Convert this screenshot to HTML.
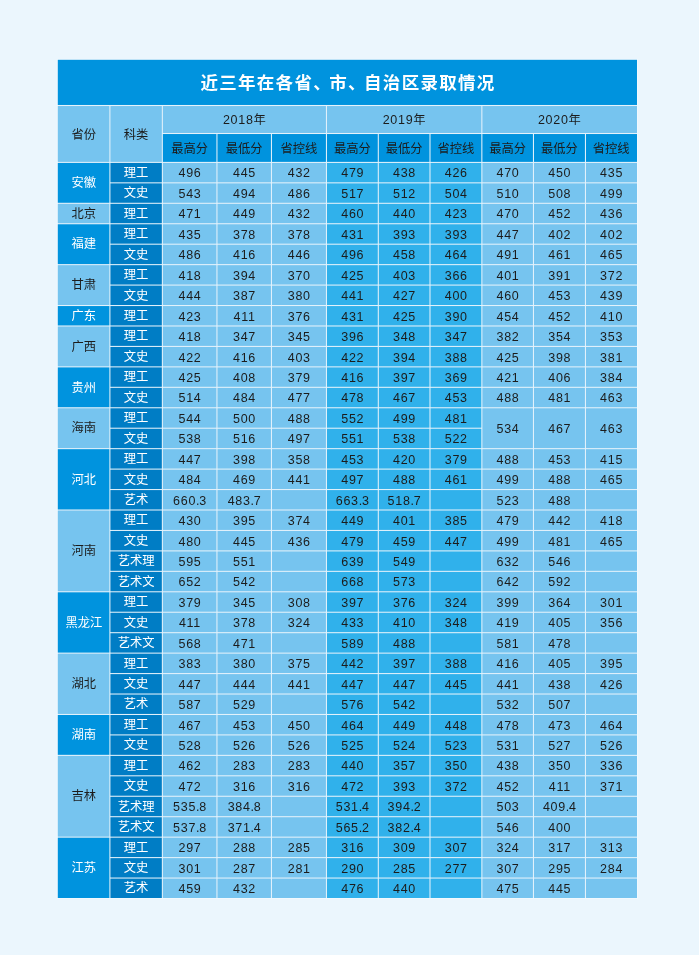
<!DOCTYPE html>
<html lang="zh-CN"><head><meta charset="utf-8"><title>近三年在各省、市、自治区录取情况</title>
<style>
html,body{margin:0;padding:0}
body{width:699px;height:955px;background:#ebf6fd;position:relative;overflow:hidden;font-family:"Liberation Sans","Noto Sans CJK SC",sans-serif;color:#1c1c1c}
svg{position:absolute;left:0;top:0}
.c{position:absolute;height:24px;line-height:24px;text-align:center;white-space:nowrap;font-size:12.3px}
.title{color:#fff;font-weight:bold;font-size:17.5px;letter-spacing:1.3px;text-indent:1.3px}
.p{letter-spacing:-1.5px}
.pt{letter-spacing:-.3px}
.n{font-size:12.5px;letter-spacing:.7px}
.w{color:#fff}
.d{font-size:12.5px;letter-spacing:.7px;text-indent:.7px}
</style></head><body>
<svg width="699" height="955" viewBox="0 0 699 955">
<rect x="56.8" y="58.8" width="581.2" height="840.2" fill="#f1f9fe"/>
<rect x="57.8" y="59.8" width="579.2" height="838.2" fill="#e4f2fb"/>
<rect x="57.8" y="59.8" width="579.2" height="45.17" fill="#0093de"/>
<rect x="57.8" y="106.03" width="51.58" height="55.85" fill="#76c4ef"/>
<rect x="110.43" y="106.03" width="51.4" height="55.85" fill="#76c4ef"/>
<rect x="162.88" y="106.03" width="163.05" height="26.95" fill="#76c4ef"/>
<rect x="162.88" y="134.03" width="53.55" height="27.85" fill="#0093de"/>
<rect x="217.47" y="134.03" width="53.45" height="27.85" fill="#0093de"/>
<rect x="271.97" y="134.03" width="53.95" height="27.85" fill="#0093de"/>
<rect x="326.97" y="106.03" width="154.35" height="26.95" fill="#76c4ef"/>
<rect x="326.97" y="134.03" width="50.8" height="27.85" fill="#0093de"/>
<rect x="378.82" y="134.03" width="50.65" height="27.85" fill="#0093de"/>
<rect x="430.52" y="134.03" width="50.8" height="27.85" fill="#0093de"/>
<rect x="482.38" y="106.03" width="154.62" height="26.95" fill="#76c4ef"/>
<rect x="482.38" y="134.03" width="50.55" height="27.85" fill="#0093de"/>
<rect x="533.98" y="134.03" width="50.95" height="27.85" fill="#0093de"/>
<rect x="585.98" y="134.03" width="51.02" height="27.85" fill="#0093de"/>
<rect x="57.8" y="162.93" width="51.58" height="39.84" fill="#0093de"/>
<rect x="110.43" y="162.93" width="51.4" height="19.4" fill="#007dc5"/>
<rect x="162.88" y="162.93" width="53.55" height="19.4" fill="#76c4ef"/>
<rect x="217.47" y="162.93" width="53.45" height="19.4" fill="#76c4ef"/>
<rect x="271.97" y="162.93" width="53.95" height="19.4" fill="#76c4ef"/>
<rect x="326.97" y="162.93" width="50.8" height="19.4" fill="#30b1eb"/>
<rect x="378.82" y="162.93" width="50.65" height="19.4" fill="#30b1eb"/>
<rect x="430.52" y="162.93" width="50.8" height="19.4" fill="#30b1eb"/>
<rect x="482.38" y="162.93" width="50.55" height="19.4" fill="#76c4ef"/>
<rect x="533.98" y="162.93" width="50.95" height="19.4" fill="#76c4ef"/>
<rect x="585.98" y="162.93" width="51.02" height="19.4" fill="#76c4ef"/>
<rect x="110.43" y="183.37" width="51.4" height="19.4" fill="#007dc5"/>
<rect x="162.88" y="183.37" width="53.55" height="19.4" fill="#76c4ef"/>
<rect x="217.47" y="183.37" width="53.45" height="19.4" fill="#76c4ef"/>
<rect x="271.97" y="183.37" width="53.95" height="19.4" fill="#76c4ef"/>
<rect x="326.97" y="183.37" width="50.8" height="19.4" fill="#30b1eb"/>
<rect x="378.82" y="183.37" width="50.65" height="19.4" fill="#30b1eb"/>
<rect x="430.52" y="183.37" width="50.8" height="19.4" fill="#30b1eb"/>
<rect x="482.38" y="183.37" width="50.55" height="19.4" fill="#76c4ef"/>
<rect x="533.98" y="183.37" width="50.95" height="19.4" fill="#76c4ef"/>
<rect x="585.98" y="183.37" width="51.02" height="19.4" fill="#76c4ef"/>
<rect x="57.8" y="203.82" width="51.58" height="19.4" fill="#76c4ef"/>
<rect x="110.43" y="203.82" width="51.4" height="19.4" fill="#007dc5"/>
<rect x="162.88" y="203.82" width="53.55" height="19.4" fill="#76c4ef"/>
<rect x="217.47" y="203.82" width="53.45" height="19.4" fill="#76c4ef"/>
<rect x="271.97" y="203.82" width="53.95" height="19.4" fill="#76c4ef"/>
<rect x="326.97" y="203.82" width="50.8" height="19.4" fill="#30b1eb"/>
<rect x="378.82" y="203.82" width="50.65" height="19.4" fill="#30b1eb"/>
<rect x="430.52" y="203.82" width="50.8" height="19.4" fill="#30b1eb"/>
<rect x="482.38" y="203.82" width="50.55" height="19.4" fill="#76c4ef"/>
<rect x="533.98" y="203.82" width="50.95" height="19.4" fill="#76c4ef"/>
<rect x="585.98" y="203.82" width="51.02" height="19.4" fill="#76c4ef"/>
<rect x="57.8" y="224.27" width="51.58" height="39.84" fill="#0093de"/>
<rect x="110.43" y="224.27" width="51.4" height="19.4" fill="#007dc5"/>
<rect x="162.88" y="224.27" width="53.55" height="19.4" fill="#76c4ef"/>
<rect x="217.47" y="224.27" width="53.45" height="19.4" fill="#76c4ef"/>
<rect x="271.97" y="224.27" width="53.95" height="19.4" fill="#76c4ef"/>
<rect x="326.97" y="224.27" width="50.8" height="19.4" fill="#30b1eb"/>
<rect x="378.82" y="224.27" width="50.65" height="19.4" fill="#30b1eb"/>
<rect x="430.52" y="224.27" width="50.8" height="19.4" fill="#30b1eb"/>
<rect x="482.38" y="224.27" width="50.55" height="19.4" fill="#76c4ef"/>
<rect x="533.98" y="224.27" width="50.95" height="19.4" fill="#76c4ef"/>
<rect x="585.98" y="224.27" width="51.02" height="19.4" fill="#76c4ef"/>
<rect x="110.43" y="244.71" width="51.4" height="19.4" fill="#007dc5"/>
<rect x="162.88" y="244.71" width="53.55" height="19.4" fill="#76c4ef"/>
<rect x="217.47" y="244.71" width="53.45" height="19.4" fill="#76c4ef"/>
<rect x="271.97" y="244.71" width="53.95" height="19.4" fill="#76c4ef"/>
<rect x="326.97" y="244.71" width="50.8" height="19.4" fill="#30b1eb"/>
<rect x="378.82" y="244.71" width="50.65" height="19.4" fill="#30b1eb"/>
<rect x="430.52" y="244.71" width="50.8" height="19.4" fill="#30b1eb"/>
<rect x="482.38" y="244.71" width="50.55" height="19.4" fill="#76c4ef"/>
<rect x="533.98" y="244.71" width="50.95" height="19.4" fill="#76c4ef"/>
<rect x="585.98" y="244.71" width="51.02" height="19.4" fill="#76c4ef"/>
<rect x="57.8" y="265.16" width="51.58" height="39.84" fill="#76c4ef"/>
<rect x="110.43" y="265.16" width="51.4" height="19.4" fill="#007dc5"/>
<rect x="162.88" y="265.16" width="53.55" height="19.4" fill="#76c4ef"/>
<rect x="217.47" y="265.16" width="53.45" height="19.4" fill="#76c4ef"/>
<rect x="271.97" y="265.16" width="53.95" height="19.4" fill="#76c4ef"/>
<rect x="326.97" y="265.16" width="50.8" height="19.4" fill="#30b1eb"/>
<rect x="378.82" y="265.16" width="50.65" height="19.4" fill="#30b1eb"/>
<rect x="430.52" y="265.16" width="50.8" height="19.4" fill="#30b1eb"/>
<rect x="482.38" y="265.16" width="50.55" height="19.4" fill="#76c4ef"/>
<rect x="533.98" y="265.16" width="50.95" height="19.4" fill="#76c4ef"/>
<rect x="585.98" y="265.16" width="51.02" height="19.4" fill="#76c4ef"/>
<rect x="110.43" y="285.61" width="51.4" height="19.4" fill="#007dc5"/>
<rect x="162.88" y="285.61" width="53.55" height="19.4" fill="#76c4ef"/>
<rect x="217.47" y="285.61" width="53.45" height="19.4" fill="#76c4ef"/>
<rect x="271.97" y="285.61" width="53.95" height="19.4" fill="#76c4ef"/>
<rect x="326.97" y="285.61" width="50.8" height="19.4" fill="#30b1eb"/>
<rect x="378.82" y="285.61" width="50.65" height="19.4" fill="#30b1eb"/>
<rect x="430.52" y="285.61" width="50.8" height="19.4" fill="#30b1eb"/>
<rect x="482.38" y="285.61" width="50.55" height="19.4" fill="#76c4ef"/>
<rect x="533.98" y="285.61" width="50.95" height="19.4" fill="#76c4ef"/>
<rect x="585.98" y="285.61" width="51.02" height="19.4" fill="#76c4ef"/>
<rect x="57.8" y="306.05" width="51.58" height="19.4" fill="#0093de"/>
<rect x="110.43" y="306.05" width="51.4" height="19.4" fill="#007dc5"/>
<rect x="162.88" y="306.05" width="53.55" height="19.4" fill="#76c4ef"/>
<rect x="217.47" y="306.05" width="53.45" height="19.4" fill="#76c4ef"/>
<rect x="271.97" y="306.05" width="53.95" height="19.4" fill="#76c4ef"/>
<rect x="326.97" y="306.05" width="50.8" height="19.4" fill="#30b1eb"/>
<rect x="378.82" y="306.05" width="50.65" height="19.4" fill="#30b1eb"/>
<rect x="430.52" y="306.05" width="50.8" height="19.4" fill="#30b1eb"/>
<rect x="482.38" y="306.05" width="50.55" height="19.4" fill="#76c4ef"/>
<rect x="533.98" y="306.05" width="50.95" height="19.4" fill="#76c4ef"/>
<rect x="585.98" y="306.05" width="51.02" height="19.4" fill="#76c4ef"/>
<rect x="57.8" y="326.5" width="51.58" height="39.84" fill="#76c4ef"/>
<rect x="110.43" y="326.5" width="51.4" height="19.4" fill="#007dc5"/>
<rect x="162.88" y="326.5" width="53.55" height="19.4" fill="#76c4ef"/>
<rect x="217.47" y="326.5" width="53.45" height="19.4" fill="#76c4ef"/>
<rect x="271.97" y="326.5" width="53.95" height="19.4" fill="#76c4ef"/>
<rect x="326.97" y="326.5" width="50.8" height="19.4" fill="#30b1eb"/>
<rect x="378.82" y="326.5" width="50.65" height="19.4" fill="#30b1eb"/>
<rect x="430.52" y="326.5" width="50.8" height="19.4" fill="#30b1eb"/>
<rect x="482.38" y="326.5" width="50.55" height="19.4" fill="#76c4ef"/>
<rect x="533.98" y="326.5" width="50.95" height="19.4" fill="#76c4ef"/>
<rect x="585.98" y="326.5" width="51.02" height="19.4" fill="#76c4ef"/>
<rect x="110.43" y="346.95" width="51.4" height="19.4" fill="#007dc5"/>
<rect x="162.88" y="346.95" width="53.55" height="19.4" fill="#76c4ef"/>
<rect x="217.47" y="346.95" width="53.45" height="19.4" fill="#76c4ef"/>
<rect x="271.97" y="346.95" width="53.95" height="19.4" fill="#76c4ef"/>
<rect x="326.97" y="346.95" width="50.8" height="19.4" fill="#30b1eb"/>
<rect x="378.82" y="346.95" width="50.65" height="19.4" fill="#30b1eb"/>
<rect x="430.52" y="346.95" width="50.8" height="19.4" fill="#30b1eb"/>
<rect x="482.38" y="346.95" width="50.55" height="19.4" fill="#76c4ef"/>
<rect x="533.98" y="346.95" width="50.95" height="19.4" fill="#76c4ef"/>
<rect x="585.98" y="346.95" width="51.02" height="19.4" fill="#76c4ef"/>
<rect x="57.8" y="367.39" width="51.58" height="39.84" fill="#0093de"/>
<rect x="110.43" y="367.39" width="51.4" height="19.4" fill="#007dc5"/>
<rect x="162.88" y="367.39" width="53.55" height="19.4" fill="#76c4ef"/>
<rect x="217.47" y="367.39" width="53.45" height="19.4" fill="#76c4ef"/>
<rect x="271.97" y="367.39" width="53.95" height="19.4" fill="#76c4ef"/>
<rect x="326.97" y="367.39" width="50.8" height="19.4" fill="#30b1eb"/>
<rect x="378.82" y="367.39" width="50.65" height="19.4" fill="#30b1eb"/>
<rect x="430.52" y="367.39" width="50.8" height="19.4" fill="#30b1eb"/>
<rect x="482.38" y="367.39" width="50.55" height="19.4" fill="#76c4ef"/>
<rect x="533.98" y="367.39" width="50.95" height="19.4" fill="#76c4ef"/>
<rect x="585.98" y="367.39" width="51.02" height="19.4" fill="#76c4ef"/>
<rect x="110.43" y="387.84" width="51.4" height="19.4" fill="#007dc5"/>
<rect x="162.88" y="387.84" width="53.55" height="19.4" fill="#76c4ef"/>
<rect x="217.47" y="387.84" width="53.45" height="19.4" fill="#76c4ef"/>
<rect x="271.97" y="387.84" width="53.95" height="19.4" fill="#76c4ef"/>
<rect x="326.97" y="387.84" width="50.8" height="19.4" fill="#30b1eb"/>
<rect x="378.82" y="387.84" width="50.65" height="19.4" fill="#30b1eb"/>
<rect x="430.52" y="387.84" width="50.8" height="19.4" fill="#30b1eb"/>
<rect x="482.38" y="387.84" width="50.55" height="19.4" fill="#76c4ef"/>
<rect x="533.98" y="387.84" width="50.95" height="19.4" fill="#76c4ef"/>
<rect x="585.98" y="387.84" width="51.02" height="19.4" fill="#76c4ef"/>
<rect x="57.8" y="408.29" width="51.58" height="39.84" fill="#76c4ef"/>
<rect x="110.43" y="408.29" width="51.4" height="19.4" fill="#007dc5"/>
<rect x="162.88" y="408.29" width="53.55" height="19.4" fill="#76c4ef"/>
<rect x="217.47" y="408.29" width="53.45" height="19.4" fill="#76c4ef"/>
<rect x="271.97" y="408.29" width="53.95" height="19.4" fill="#76c4ef"/>
<rect x="326.97" y="408.29" width="50.8" height="19.4" fill="#30b1eb"/>
<rect x="378.82" y="408.29" width="50.65" height="19.4" fill="#30b1eb"/>
<rect x="430.52" y="408.29" width="50.8" height="19.4" fill="#30b1eb"/>
<rect x="482.38" y="408.29" width="50.55" height="39.84" fill="#76c4ef"/>
<rect x="533.98" y="408.29" width="50.95" height="39.84" fill="#76c4ef"/>
<rect x="585.98" y="408.29" width="51.02" height="39.84" fill="#76c4ef"/>
<rect x="110.43" y="428.74" width="51.4" height="19.4" fill="#007dc5"/>
<rect x="162.88" y="428.74" width="53.55" height="19.4" fill="#76c4ef"/>
<rect x="217.47" y="428.74" width="53.45" height="19.4" fill="#76c4ef"/>
<rect x="271.97" y="428.74" width="53.95" height="19.4" fill="#76c4ef"/>
<rect x="326.97" y="428.74" width="50.8" height="19.4" fill="#30b1eb"/>
<rect x="378.82" y="428.74" width="50.65" height="19.4" fill="#30b1eb"/>
<rect x="430.52" y="428.74" width="50.8" height="19.4" fill="#30b1eb"/>
<rect x="57.8" y="449.18" width="51.58" height="60.29" fill="#0093de"/>
<rect x="110.43" y="449.18" width="51.4" height="19.4" fill="#007dc5"/>
<rect x="162.88" y="449.18" width="53.55" height="19.4" fill="#76c4ef"/>
<rect x="217.47" y="449.18" width="53.45" height="19.4" fill="#76c4ef"/>
<rect x="271.97" y="449.18" width="53.95" height="19.4" fill="#76c4ef"/>
<rect x="326.97" y="449.18" width="50.8" height="19.4" fill="#30b1eb"/>
<rect x="378.82" y="449.18" width="50.65" height="19.4" fill="#30b1eb"/>
<rect x="430.52" y="449.18" width="50.8" height="19.4" fill="#30b1eb"/>
<rect x="482.38" y="449.18" width="50.55" height="19.4" fill="#76c4ef"/>
<rect x="533.98" y="449.18" width="50.95" height="19.4" fill="#76c4ef"/>
<rect x="585.98" y="449.18" width="51.02" height="19.4" fill="#76c4ef"/>
<rect x="110.43" y="469.63" width="51.4" height="19.4" fill="#007dc5"/>
<rect x="162.88" y="469.63" width="53.55" height="19.4" fill="#76c4ef"/>
<rect x="217.47" y="469.63" width="53.45" height="19.4" fill="#76c4ef"/>
<rect x="271.97" y="469.63" width="53.95" height="19.4" fill="#76c4ef"/>
<rect x="326.97" y="469.63" width="50.8" height="19.4" fill="#30b1eb"/>
<rect x="378.82" y="469.63" width="50.65" height="19.4" fill="#30b1eb"/>
<rect x="430.52" y="469.63" width="50.8" height="19.4" fill="#30b1eb"/>
<rect x="482.38" y="469.63" width="50.55" height="19.4" fill="#76c4ef"/>
<rect x="533.98" y="469.63" width="50.95" height="19.4" fill="#76c4ef"/>
<rect x="585.98" y="469.63" width="51.02" height="19.4" fill="#76c4ef"/>
<rect x="110.43" y="490.08" width="51.4" height="19.4" fill="#007dc5"/>
<rect x="162.88" y="490.08" width="53.55" height="19.4" fill="#76c4ef"/>
<rect x="217.47" y="490.08" width="53.45" height="19.4" fill="#76c4ef"/>
<rect x="271.97" y="490.08" width="53.95" height="19.4" fill="#76c4ef"/>
<rect x="326.97" y="490.08" width="50.8" height="19.4" fill="#30b1eb"/>
<rect x="378.82" y="490.08" width="50.65" height="19.4" fill="#30b1eb"/>
<rect x="430.52" y="490.08" width="50.8" height="19.4" fill="#30b1eb"/>
<rect x="482.38" y="490.08" width="50.55" height="19.4" fill="#76c4ef"/>
<rect x="533.98" y="490.08" width="50.95" height="19.4" fill="#76c4ef"/>
<rect x="585.98" y="490.08" width="51.02" height="19.4" fill="#76c4ef"/>
<rect x="57.8" y="510.52" width="51.58" height="80.74" fill="#76c4ef"/>
<rect x="110.43" y="510.52" width="51.4" height="19.4" fill="#007dc5"/>
<rect x="162.88" y="510.52" width="53.55" height="19.4" fill="#76c4ef"/>
<rect x="217.47" y="510.52" width="53.45" height="19.4" fill="#76c4ef"/>
<rect x="271.97" y="510.52" width="53.95" height="19.4" fill="#76c4ef"/>
<rect x="326.97" y="510.52" width="50.8" height="19.4" fill="#30b1eb"/>
<rect x="378.82" y="510.52" width="50.65" height="19.4" fill="#30b1eb"/>
<rect x="430.52" y="510.52" width="50.8" height="19.4" fill="#30b1eb"/>
<rect x="482.38" y="510.52" width="50.55" height="19.4" fill="#76c4ef"/>
<rect x="533.98" y="510.52" width="50.95" height="19.4" fill="#76c4ef"/>
<rect x="585.98" y="510.52" width="51.02" height="19.4" fill="#76c4ef"/>
<rect x="110.43" y="530.97" width="51.4" height="19.4" fill="#007dc5"/>
<rect x="162.88" y="530.97" width="53.55" height="19.4" fill="#76c4ef"/>
<rect x="217.47" y="530.97" width="53.45" height="19.4" fill="#76c4ef"/>
<rect x="271.97" y="530.97" width="53.95" height="19.4" fill="#76c4ef"/>
<rect x="326.97" y="530.97" width="50.8" height="19.4" fill="#30b1eb"/>
<rect x="378.82" y="530.97" width="50.65" height="19.4" fill="#30b1eb"/>
<rect x="430.52" y="530.97" width="50.8" height="19.4" fill="#30b1eb"/>
<rect x="482.38" y="530.97" width="50.55" height="19.4" fill="#76c4ef"/>
<rect x="533.98" y="530.97" width="50.95" height="19.4" fill="#76c4ef"/>
<rect x="585.98" y="530.97" width="51.02" height="19.4" fill="#76c4ef"/>
<rect x="110.43" y="551.42" width="51.4" height="19.4" fill="#007dc5"/>
<rect x="162.88" y="551.42" width="53.55" height="19.4" fill="#76c4ef"/>
<rect x="217.47" y="551.42" width="53.45" height="19.4" fill="#76c4ef"/>
<rect x="271.97" y="551.42" width="53.95" height="19.4" fill="#76c4ef"/>
<rect x="326.97" y="551.42" width="50.8" height="19.4" fill="#30b1eb"/>
<rect x="378.82" y="551.42" width="50.65" height="19.4" fill="#30b1eb"/>
<rect x="430.52" y="551.42" width="50.8" height="19.4" fill="#30b1eb"/>
<rect x="482.38" y="551.42" width="50.55" height="19.4" fill="#76c4ef"/>
<rect x="533.98" y="551.42" width="50.95" height="19.4" fill="#76c4ef"/>
<rect x="585.98" y="551.42" width="51.02" height="19.4" fill="#76c4ef"/>
<rect x="110.43" y="571.87" width="51.4" height="19.4" fill="#007dc5"/>
<rect x="162.88" y="571.87" width="53.55" height="19.4" fill="#76c4ef"/>
<rect x="217.47" y="571.87" width="53.45" height="19.4" fill="#76c4ef"/>
<rect x="271.97" y="571.87" width="53.95" height="19.4" fill="#76c4ef"/>
<rect x="326.97" y="571.87" width="50.8" height="19.4" fill="#30b1eb"/>
<rect x="378.82" y="571.87" width="50.65" height="19.4" fill="#30b1eb"/>
<rect x="430.52" y="571.87" width="50.8" height="19.4" fill="#30b1eb"/>
<rect x="482.38" y="571.87" width="50.55" height="19.4" fill="#76c4ef"/>
<rect x="533.98" y="571.87" width="50.95" height="19.4" fill="#76c4ef"/>
<rect x="585.98" y="571.87" width="51.02" height="19.4" fill="#76c4ef"/>
<rect x="57.8" y="592.31" width="51.58" height="60.29" fill="#0093de"/>
<rect x="110.43" y="592.31" width="51.4" height="19.4" fill="#007dc5"/>
<rect x="162.88" y="592.31" width="53.55" height="19.4" fill="#76c4ef"/>
<rect x="217.47" y="592.31" width="53.45" height="19.4" fill="#76c4ef"/>
<rect x="271.97" y="592.31" width="53.95" height="19.4" fill="#76c4ef"/>
<rect x="326.97" y="592.31" width="50.8" height="19.4" fill="#30b1eb"/>
<rect x="378.82" y="592.31" width="50.65" height="19.4" fill="#30b1eb"/>
<rect x="430.52" y="592.31" width="50.8" height="19.4" fill="#30b1eb"/>
<rect x="482.38" y="592.31" width="50.55" height="19.4" fill="#76c4ef"/>
<rect x="533.98" y="592.31" width="50.95" height="19.4" fill="#76c4ef"/>
<rect x="585.98" y="592.31" width="51.02" height="19.4" fill="#76c4ef"/>
<rect x="110.43" y="612.76" width="51.4" height="19.4" fill="#007dc5"/>
<rect x="162.88" y="612.76" width="53.55" height="19.4" fill="#76c4ef"/>
<rect x="217.47" y="612.76" width="53.45" height="19.4" fill="#76c4ef"/>
<rect x="271.97" y="612.76" width="53.95" height="19.4" fill="#76c4ef"/>
<rect x="326.97" y="612.76" width="50.8" height="19.4" fill="#30b1eb"/>
<rect x="378.82" y="612.76" width="50.65" height="19.4" fill="#30b1eb"/>
<rect x="430.52" y="612.76" width="50.8" height="19.4" fill="#30b1eb"/>
<rect x="482.38" y="612.76" width="50.55" height="19.4" fill="#76c4ef"/>
<rect x="533.98" y="612.76" width="50.95" height="19.4" fill="#76c4ef"/>
<rect x="585.98" y="612.76" width="51.02" height="19.4" fill="#76c4ef"/>
<rect x="110.43" y="633.21" width="51.4" height="19.4" fill="#007dc5"/>
<rect x="162.88" y="633.21" width="53.55" height="19.4" fill="#76c4ef"/>
<rect x="217.47" y="633.21" width="53.45" height="19.4" fill="#76c4ef"/>
<rect x="271.97" y="633.21" width="53.95" height="19.4" fill="#76c4ef"/>
<rect x="326.97" y="633.21" width="50.8" height="19.4" fill="#30b1eb"/>
<rect x="378.82" y="633.21" width="50.65" height="19.4" fill="#30b1eb"/>
<rect x="430.52" y="633.21" width="50.8" height="19.4" fill="#30b1eb"/>
<rect x="482.38" y="633.21" width="50.55" height="19.4" fill="#76c4ef"/>
<rect x="533.98" y="633.21" width="50.95" height="19.4" fill="#76c4ef"/>
<rect x="585.98" y="633.21" width="51.02" height="19.4" fill="#76c4ef"/>
<rect x="57.8" y="653.65" width="51.58" height="60.29" fill="#76c4ef"/>
<rect x="110.43" y="653.65" width="51.4" height="19.4" fill="#007dc5"/>
<rect x="162.88" y="653.65" width="53.55" height="19.4" fill="#76c4ef"/>
<rect x="217.47" y="653.65" width="53.45" height="19.4" fill="#76c4ef"/>
<rect x="271.97" y="653.65" width="53.95" height="19.4" fill="#76c4ef"/>
<rect x="326.97" y="653.65" width="50.8" height="19.4" fill="#30b1eb"/>
<rect x="378.82" y="653.65" width="50.65" height="19.4" fill="#30b1eb"/>
<rect x="430.52" y="653.65" width="50.8" height="19.4" fill="#30b1eb"/>
<rect x="482.38" y="653.65" width="50.55" height="19.4" fill="#76c4ef"/>
<rect x="533.98" y="653.65" width="50.95" height="19.4" fill="#76c4ef"/>
<rect x="585.98" y="653.65" width="51.02" height="19.4" fill="#76c4ef"/>
<rect x="110.43" y="674.1" width="51.4" height="19.4" fill="#007dc5"/>
<rect x="162.88" y="674.1" width="53.55" height="19.4" fill="#76c4ef"/>
<rect x="217.47" y="674.1" width="53.45" height="19.4" fill="#76c4ef"/>
<rect x="271.97" y="674.1" width="53.95" height="19.4" fill="#76c4ef"/>
<rect x="326.97" y="674.1" width="50.8" height="19.4" fill="#30b1eb"/>
<rect x="378.82" y="674.1" width="50.65" height="19.4" fill="#30b1eb"/>
<rect x="430.52" y="674.1" width="50.8" height="19.4" fill="#30b1eb"/>
<rect x="482.38" y="674.1" width="50.55" height="19.4" fill="#76c4ef"/>
<rect x="533.98" y="674.1" width="50.95" height="19.4" fill="#76c4ef"/>
<rect x="585.98" y="674.1" width="51.02" height="19.4" fill="#76c4ef"/>
<rect x="110.43" y="694.55" width="51.4" height="19.4" fill="#007dc5"/>
<rect x="162.88" y="694.55" width="53.55" height="19.4" fill="#76c4ef"/>
<rect x="217.47" y="694.55" width="53.45" height="19.4" fill="#76c4ef"/>
<rect x="271.97" y="694.55" width="53.95" height="19.4" fill="#76c4ef"/>
<rect x="326.97" y="694.55" width="50.8" height="19.4" fill="#30b1eb"/>
<rect x="378.82" y="694.55" width="50.65" height="19.4" fill="#30b1eb"/>
<rect x="430.52" y="694.55" width="50.8" height="19.4" fill="#30b1eb"/>
<rect x="482.38" y="694.55" width="50.55" height="19.4" fill="#76c4ef"/>
<rect x="533.98" y="694.55" width="50.95" height="19.4" fill="#76c4ef"/>
<rect x="585.98" y="694.55" width="51.02" height="19.4" fill="#76c4ef"/>
<rect x="57.8" y="714.99" width="51.58" height="39.84" fill="#0093de"/>
<rect x="110.43" y="714.99" width="51.4" height="19.4" fill="#007dc5"/>
<rect x="162.88" y="714.99" width="53.55" height="19.4" fill="#76c4ef"/>
<rect x="217.47" y="714.99" width="53.45" height="19.4" fill="#76c4ef"/>
<rect x="271.97" y="714.99" width="53.95" height="19.4" fill="#76c4ef"/>
<rect x="326.97" y="714.99" width="50.8" height="19.4" fill="#30b1eb"/>
<rect x="378.82" y="714.99" width="50.65" height="19.4" fill="#30b1eb"/>
<rect x="430.52" y="714.99" width="50.8" height="19.4" fill="#30b1eb"/>
<rect x="482.38" y="714.99" width="50.55" height="19.4" fill="#76c4ef"/>
<rect x="533.98" y="714.99" width="50.95" height="19.4" fill="#76c4ef"/>
<rect x="585.98" y="714.99" width="51.02" height="19.4" fill="#76c4ef"/>
<rect x="110.43" y="735.44" width="51.4" height="19.4" fill="#007dc5"/>
<rect x="162.88" y="735.44" width="53.55" height="19.4" fill="#76c4ef"/>
<rect x="217.47" y="735.44" width="53.45" height="19.4" fill="#76c4ef"/>
<rect x="271.97" y="735.44" width="53.95" height="19.4" fill="#76c4ef"/>
<rect x="326.97" y="735.44" width="50.8" height="19.4" fill="#30b1eb"/>
<rect x="378.82" y="735.44" width="50.65" height="19.4" fill="#30b1eb"/>
<rect x="430.52" y="735.44" width="50.8" height="19.4" fill="#30b1eb"/>
<rect x="482.38" y="735.44" width="50.55" height="19.4" fill="#76c4ef"/>
<rect x="533.98" y="735.44" width="50.95" height="19.4" fill="#76c4ef"/>
<rect x="585.98" y="735.44" width="51.02" height="19.4" fill="#76c4ef"/>
<rect x="57.8" y="755.89" width="51.58" height="80.74" fill="#76c4ef"/>
<rect x="110.43" y="755.89" width="51.4" height="19.4" fill="#007dc5"/>
<rect x="162.88" y="755.89" width="53.55" height="19.4" fill="#76c4ef"/>
<rect x="217.47" y="755.89" width="53.45" height="19.4" fill="#76c4ef"/>
<rect x="271.97" y="755.89" width="53.95" height="19.4" fill="#76c4ef"/>
<rect x="326.97" y="755.89" width="50.8" height="19.4" fill="#30b1eb"/>
<rect x="378.82" y="755.89" width="50.65" height="19.4" fill="#30b1eb"/>
<rect x="430.52" y="755.89" width="50.8" height="19.4" fill="#30b1eb"/>
<rect x="482.38" y="755.89" width="50.55" height="19.4" fill="#76c4ef"/>
<rect x="533.98" y="755.89" width="50.95" height="19.4" fill="#76c4ef"/>
<rect x="585.98" y="755.89" width="51.02" height="19.4" fill="#76c4ef"/>
<rect x="110.43" y="776.33" width="51.4" height="19.4" fill="#007dc5"/>
<rect x="162.88" y="776.33" width="53.55" height="19.4" fill="#76c4ef"/>
<rect x="217.47" y="776.33" width="53.45" height="19.4" fill="#76c4ef"/>
<rect x="271.97" y="776.33" width="53.95" height="19.4" fill="#76c4ef"/>
<rect x="326.97" y="776.33" width="50.8" height="19.4" fill="#30b1eb"/>
<rect x="378.82" y="776.33" width="50.65" height="19.4" fill="#30b1eb"/>
<rect x="430.52" y="776.33" width="50.8" height="19.4" fill="#30b1eb"/>
<rect x="482.38" y="776.33" width="50.55" height="19.4" fill="#76c4ef"/>
<rect x="533.98" y="776.33" width="50.95" height="19.4" fill="#76c4ef"/>
<rect x="585.98" y="776.33" width="51.02" height="19.4" fill="#76c4ef"/>
<rect x="110.43" y="796.78" width="51.4" height="19.4" fill="#007dc5"/>
<rect x="162.88" y="796.78" width="53.55" height="19.4" fill="#76c4ef"/>
<rect x="217.47" y="796.78" width="53.45" height="19.4" fill="#76c4ef"/>
<rect x="271.97" y="796.78" width="53.95" height="19.4" fill="#76c4ef"/>
<rect x="326.97" y="796.78" width="50.8" height="19.4" fill="#30b1eb"/>
<rect x="378.82" y="796.78" width="50.65" height="19.4" fill="#30b1eb"/>
<rect x="430.52" y="796.78" width="50.8" height="19.4" fill="#30b1eb"/>
<rect x="482.38" y="796.78" width="50.55" height="19.4" fill="#76c4ef"/>
<rect x="533.98" y="796.78" width="50.95" height="19.4" fill="#76c4ef"/>
<rect x="585.98" y="796.78" width="51.02" height="19.4" fill="#76c4ef"/>
<rect x="110.43" y="817.23" width="51.4" height="19.4" fill="#007dc5"/>
<rect x="162.88" y="817.23" width="53.55" height="19.4" fill="#76c4ef"/>
<rect x="217.47" y="817.23" width="53.45" height="19.4" fill="#76c4ef"/>
<rect x="271.97" y="817.23" width="53.95" height="19.4" fill="#76c4ef"/>
<rect x="326.97" y="817.23" width="50.8" height="19.4" fill="#30b1eb"/>
<rect x="378.82" y="817.23" width="50.65" height="19.4" fill="#30b1eb"/>
<rect x="430.52" y="817.23" width="50.8" height="19.4" fill="#30b1eb"/>
<rect x="482.38" y="817.23" width="50.55" height="19.4" fill="#76c4ef"/>
<rect x="533.98" y="817.23" width="50.95" height="19.4" fill="#76c4ef"/>
<rect x="585.98" y="817.23" width="51.02" height="19.4" fill="#76c4ef"/>
<rect x="57.8" y="837.68" width="51.58" height="60.32" fill="#0093de"/>
<rect x="110.43" y="837.68" width="51.4" height="19.4" fill="#007dc5"/>
<rect x="162.88" y="837.68" width="53.55" height="19.4" fill="#76c4ef"/>
<rect x="217.47" y="837.68" width="53.45" height="19.4" fill="#76c4ef"/>
<rect x="271.97" y="837.68" width="53.95" height="19.4" fill="#76c4ef"/>
<rect x="326.97" y="837.68" width="50.8" height="19.4" fill="#30b1eb"/>
<rect x="378.82" y="837.68" width="50.65" height="19.4" fill="#30b1eb"/>
<rect x="430.52" y="837.68" width="50.8" height="19.4" fill="#30b1eb"/>
<rect x="482.38" y="837.68" width="50.55" height="19.4" fill="#76c4ef"/>
<rect x="533.98" y="837.68" width="50.95" height="19.4" fill="#76c4ef"/>
<rect x="585.98" y="837.68" width="51.02" height="19.4" fill="#76c4ef"/>
<rect x="110.43" y="858.12" width="51.4" height="19.4" fill="#007dc5"/>
<rect x="162.88" y="858.12" width="53.55" height="19.4" fill="#76c4ef"/>
<rect x="217.47" y="858.12" width="53.45" height="19.4" fill="#76c4ef"/>
<rect x="271.97" y="858.12" width="53.95" height="19.4" fill="#76c4ef"/>
<rect x="326.97" y="858.12" width="50.8" height="19.4" fill="#30b1eb"/>
<rect x="378.82" y="858.12" width="50.65" height="19.4" fill="#30b1eb"/>
<rect x="430.52" y="858.12" width="50.8" height="19.4" fill="#30b1eb"/>
<rect x="482.38" y="858.12" width="50.55" height="19.4" fill="#76c4ef"/>
<rect x="533.98" y="858.12" width="50.95" height="19.4" fill="#76c4ef"/>
<rect x="585.98" y="858.12" width="51.02" height="19.4" fill="#76c4ef"/>
<rect x="110.43" y="878.57" width="51.4" height="19.43" fill="#007dc5"/>
<rect x="162.88" y="878.57" width="53.55" height="19.43" fill="#76c4ef"/>
<rect x="217.47" y="878.57" width="53.45" height="19.43" fill="#76c4ef"/>
<rect x="271.97" y="878.57" width="53.95" height="19.43" fill="#76c4ef"/>
<rect x="326.97" y="878.57" width="50.8" height="19.43" fill="#30b1eb"/>
<rect x="378.82" y="878.57" width="50.65" height="19.43" fill="#30b1eb"/>
<rect x="430.52" y="878.57" width="50.8" height="19.43" fill="#30b1eb"/>
<rect x="482.38" y="878.57" width="50.55" height="19.43" fill="#76c4ef"/>
<rect x="533.98" y="878.57" width="50.95" height="19.43" fill="#76c4ef"/>
<rect x="585.98" y="878.57" width="51.02" height="19.43" fill="#76c4ef"/>
</svg>
<div class="c title" style="left:147.4px;top:71.45px;width:400px">近三年在各省<span class="p">、</span>市<span class="p">、</span>自治区录取情况</div>
<div class="c hd" style="left:53.85px;top:123.15px;width:60px">省份</div>
<div class="c hd" style="left:106.12px;top:123.15px;width:60px">科类</div>
<div class="c hd yr" style="left:214.4px;top:108.2px;width:60px"><span class="n">2018</span>年</div>
<div class="c hd sub" style="left:159.65px;top:137.15px;width:60px">最高分</div>
<div class="c hd sub" style="left:214.2px;top:137.15px;width:60px">最低分</div>
<div class="c hd sub" style="left:268.95px;top:137.15px;width:60px">省控线</div>
<div class="c hd yr" style="left:374.15px;top:108.2px;width:60px"><span class="n">2019</span>年</div>
<div class="c hd sub" style="left:322.38px;top:137.15px;width:60px">最高分</div>
<div class="c hd sub" style="left:374.15px;top:137.15px;width:60px">最低分</div>
<div class="c hd sub" style="left:425.93px;top:137.15px;width:60px">省控线</div>
<div class="c hd yr" style="left:529.42px;top:108.2px;width:60px"><span class="n">2020</span>年</div>
<div class="c hd sub" style="left:477.65px;top:137.15px;width:60px">最高分</div>
<div class="c hd sub" style="left:529.45px;top:137.15px;width:60px">最低分</div>
<div class="c hd sub" style="left:581.23px;top:137.15px;width:60px">省控线</div>
<div class="c prov w" style="left:53.85px;top:171.08px;width:60px">安徽</div>
<div class="c kl w" style="left:106.12px;top:160.85px;width:60px">理工</div>
<div class="c d" style="left:159.65px;top:161.47px;width:60px">496</div>
<div class="c d" style="left:214.2px;top:161.47px;width:60px">445</div>
<div class="c d" style="left:268.95px;top:161.47px;width:60px">432</div>
<div class="c d" style="left:322.38px;top:161.47px;width:60px">479</div>
<div class="c d" style="left:374.15px;top:161.47px;width:60px">438</div>
<div class="c d" style="left:425.93px;top:161.47px;width:60px">426</div>
<div class="c d" style="left:477.65px;top:161.47px;width:60px">470</div>
<div class="c d" style="left:529.45px;top:161.47px;width:60px">450</div>
<div class="c d" style="left:581.23px;top:161.47px;width:60px">435</div>
<div class="c kl w" style="left:106.12px;top:181.3px;width:60px">文史</div>
<div class="c d" style="left:159.65px;top:181.92px;width:60px">543</div>
<div class="c d" style="left:214.2px;top:181.92px;width:60px">494</div>
<div class="c d" style="left:268.95px;top:181.92px;width:60px">486</div>
<div class="c d" style="left:322.38px;top:181.92px;width:60px">517</div>
<div class="c d" style="left:374.15px;top:181.92px;width:60px">512</div>
<div class="c d" style="left:425.93px;top:181.92px;width:60px">504</div>
<div class="c d" style="left:477.65px;top:181.92px;width:60px">510</div>
<div class="c d" style="left:529.45px;top:181.92px;width:60px">508</div>
<div class="c d" style="left:581.23px;top:181.92px;width:60px">499</div>
<div class="c prov" style="left:53.85px;top:201.75px;width:60px">北京</div>
<div class="c kl w" style="left:106.12px;top:201.75px;width:60px">理工</div>
<div class="c d" style="left:159.65px;top:202.37px;width:60px">471</div>
<div class="c d" style="left:214.2px;top:202.37px;width:60px">449</div>
<div class="c d" style="left:268.95px;top:202.37px;width:60px">432</div>
<div class="c d" style="left:322.38px;top:202.37px;width:60px">460</div>
<div class="c d" style="left:374.15px;top:202.37px;width:60px">440</div>
<div class="c d" style="left:425.93px;top:202.37px;width:60px">423</div>
<div class="c d" style="left:477.65px;top:202.37px;width:60px">470</div>
<div class="c d" style="left:529.45px;top:202.37px;width:60px">452</div>
<div class="c d" style="left:581.23px;top:202.37px;width:60px">436</div>
<div class="c prov w" style="left:53.85px;top:232.42px;width:60px">福建</div>
<div class="c kl w" style="left:106.12px;top:222.19px;width:60px">理工</div>
<div class="c d" style="left:159.65px;top:222.81px;width:60px">435</div>
<div class="c d" style="left:214.2px;top:222.81px;width:60px">378</div>
<div class="c d" style="left:268.95px;top:222.81px;width:60px">378</div>
<div class="c d" style="left:322.38px;top:222.81px;width:60px">431</div>
<div class="c d" style="left:374.15px;top:222.81px;width:60px">393</div>
<div class="c d" style="left:425.93px;top:222.81px;width:60px">393</div>
<div class="c d" style="left:477.65px;top:222.81px;width:60px">447</div>
<div class="c d" style="left:529.45px;top:222.81px;width:60px">402</div>
<div class="c d" style="left:581.23px;top:222.81px;width:60px">402</div>
<div class="c kl w" style="left:106.12px;top:242.64px;width:60px">文史</div>
<div class="c d" style="left:159.65px;top:243.26px;width:60px">486</div>
<div class="c d" style="left:214.2px;top:243.26px;width:60px">416</div>
<div class="c d" style="left:268.95px;top:243.26px;width:60px">446</div>
<div class="c d" style="left:322.38px;top:243.26px;width:60px">496</div>
<div class="c d" style="left:374.15px;top:243.26px;width:60px">458</div>
<div class="c d" style="left:425.93px;top:243.26px;width:60px">464</div>
<div class="c d" style="left:477.65px;top:243.26px;width:60px">491</div>
<div class="c d" style="left:529.45px;top:243.26px;width:60px">461</div>
<div class="c d" style="left:581.23px;top:243.26px;width:60px">465</div>
<div class="c prov" style="left:53.85px;top:273.31px;width:60px">甘肃</div>
<div class="c kl w" style="left:106.12px;top:263.09px;width:60px">理工</div>
<div class="c d" style="left:159.65px;top:263.71px;width:60px">418</div>
<div class="c d" style="left:214.2px;top:263.71px;width:60px">394</div>
<div class="c d" style="left:268.95px;top:263.71px;width:60px">370</div>
<div class="c d" style="left:322.38px;top:263.71px;width:60px">425</div>
<div class="c d" style="left:374.15px;top:263.71px;width:60px">403</div>
<div class="c d" style="left:425.93px;top:263.71px;width:60px">366</div>
<div class="c d" style="left:477.65px;top:263.71px;width:60px">401</div>
<div class="c d" style="left:529.45px;top:263.71px;width:60px">391</div>
<div class="c d" style="left:581.23px;top:263.71px;width:60px">372</div>
<div class="c kl w" style="left:106.12px;top:283.54px;width:60px">文史</div>
<div class="c d" style="left:159.65px;top:284.16px;width:60px">444</div>
<div class="c d" style="left:214.2px;top:284.16px;width:60px">387</div>
<div class="c d" style="left:268.95px;top:284.16px;width:60px">380</div>
<div class="c d" style="left:322.38px;top:284.16px;width:60px">441</div>
<div class="c d" style="left:374.15px;top:284.16px;width:60px">427</div>
<div class="c d" style="left:425.93px;top:284.16px;width:60px">400</div>
<div class="c d" style="left:477.65px;top:284.16px;width:60px">460</div>
<div class="c d" style="left:529.45px;top:284.16px;width:60px">453</div>
<div class="c d" style="left:581.23px;top:284.16px;width:60px">439</div>
<div class="c prov w" style="left:53.85px;top:303.98px;width:60px">广东</div>
<div class="c kl w" style="left:106.12px;top:303.98px;width:60px">理工</div>
<div class="c d" style="left:159.65px;top:304.6px;width:60px">423</div>
<div class="c d" style="left:214.2px;top:304.6px;width:60px">411</div>
<div class="c d" style="left:268.95px;top:304.6px;width:60px">376</div>
<div class="c d" style="left:322.38px;top:304.6px;width:60px">431</div>
<div class="c d" style="left:374.15px;top:304.6px;width:60px">425</div>
<div class="c d" style="left:425.93px;top:304.6px;width:60px">390</div>
<div class="c d" style="left:477.65px;top:304.6px;width:60px">454</div>
<div class="c d" style="left:529.45px;top:304.6px;width:60px">452</div>
<div class="c d" style="left:581.23px;top:304.6px;width:60px">410</div>
<div class="c prov" style="left:53.85px;top:334.65px;width:60px">广西</div>
<div class="c kl w" style="left:106.12px;top:324.43px;width:60px">理工</div>
<div class="c d" style="left:159.65px;top:325.05px;width:60px">418</div>
<div class="c d" style="left:214.2px;top:325.05px;width:60px">347</div>
<div class="c d" style="left:268.95px;top:325.05px;width:60px">345</div>
<div class="c d" style="left:322.38px;top:325.05px;width:60px">396</div>
<div class="c d" style="left:374.15px;top:325.05px;width:60px">348</div>
<div class="c d" style="left:425.93px;top:325.05px;width:60px">347</div>
<div class="c d" style="left:477.65px;top:325.05px;width:60px">382</div>
<div class="c d" style="left:529.45px;top:325.05px;width:60px">354</div>
<div class="c d" style="left:581.23px;top:325.05px;width:60px">353</div>
<div class="c kl w" style="left:106.12px;top:344.88px;width:60px">文史</div>
<div class="c d" style="left:159.65px;top:345.5px;width:60px">422</div>
<div class="c d" style="left:214.2px;top:345.5px;width:60px">416</div>
<div class="c d" style="left:268.95px;top:345.5px;width:60px">403</div>
<div class="c d" style="left:322.38px;top:345.5px;width:60px">422</div>
<div class="c d" style="left:374.15px;top:345.5px;width:60px">394</div>
<div class="c d" style="left:425.93px;top:345.5px;width:60px">388</div>
<div class="c d" style="left:477.65px;top:345.5px;width:60px">425</div>
<div class="c d" style="left:529.45px;top:345.5px;width:60px">398</div>
<div class="c d" style="left:581.23px;top:345.5px;width:60px">381</div>
<div class="c prov w" style="left:53.85px;top:375.55px;width:60px">贵州</div>
<div class="c kl w" style="left:106.12px;top:365.32px;width:60px">理工</div>
<div class="c d" style="left:159.65px;top:365.94px;width:60px">425</div>
<div class="c d" style="left:214.2px;top:365.94px;width:60px">408</div>
<div class="c d" style="left:268.95px;top:365.94px;width:60px">379</div>
<div class="c d" style="left:322.38px;top:365.94px;width:60px">416</div>
<div class="c d" style="left:374.15px;top:365.94px;width:60px">397</div>
<div class="c d" style="left:425.93px;top:365.94px;width:60px">369</div>
<div class="c d" style="left:477.65px;top:365.94px;width:60px">421</div>
<div class="c d" style="left:529.45px;top:365.94px;width:60px">406</div>
<div class="c d" style="left:581.23px;top:365.94px;width:60px">384</div>
<div class="c kl w" style="left:106.12px;top:385.77px;width:60px">文史</div>
<div class="c d" style="left:159.65px;top:386.39px;width:60px">514</div>
<div class="c d" style="left:214.2px;top:386.39px;width:60px">484</div>
<div class="c d" style="left:268.95px;top:386.39px;width:60px">477</div>
<div class="c d" style="left:322.38px;top:386.39px;width:60px">478</div>
<div class="c d" style="left:374.15px;top:386.39px;width:60px">467</div>
<div class="c d" style="left:425.93px;top:386.39px;width:60px">453</div>
<div class="c d" style="left:477.65px;top:386.39px;width:60px">488</div>
<div class="c d" style="left:529.45px;top:386.39px;width:60px">481</div>
<div class="c d" style="left:581.23px;top:386.39px;width:60px">463</div>
<div class="c prov" style="left:53.85px;top:416.44px;width:60px">海南</div>
<div class="c kl w" style="left:106.12px;top:406.22px;width:60px">理工</div>
<div class="c d" style="left:159.65px;top:406.84px;width:60px">544</div>
<div class="c d" style="left:214.2px;top:406.84px;width:60px">500</div>
<div class="c d" style="left:268.95px;top:406.84px;width:60px">488</div>
<div class="c d" style="left:322.38px;top:406.84px;width:60px">552</div>
<div class="c d" style="left:374.15px;top:406.84px;width:60px">499</div>
<div class="c d" style="left:425.93px;top:406.84px;width:60px">481</div>
<div class="c d" style="left:477.65px;top:417.06px;width:60px">534</div>
<div class="c d" style="left:529.45px;top:417.06px;width:60px">467</div>
<div class="c d" style="left:581.23px;top:417.06px;width:60px">463</div>
<div class="c kl w" style="left:106.12px;top:426.66px;width:60px">文史</div>
<div class="c d" style="left:159.65px;top:427.28px;width:60px">538</div>
<div class="c d" style="left:214.2px;top:427.28px;width:60px">516</div>
<div class="c d" style="left:268.95px;top:427.28px;width:60px">497</div>
<div class="c d" style="left:322.38px;top:427.28px;width:60px">551</div>
<div class="c d" style="left:374.15px;top:427.28px;width:60px">538</div>
<div class="c d" style="left:425.93px;top:427.28px;width:60px">522</div>
<div class="c prov w" style="left:53.85px;top:467.56px;width:60px">河北</div>
<div class="c kl w" style="left:106.12px;top:447.11px;width:60px">理工</div>
<div class="c d" style="left:159.65px;top:447.73px;width:60px">447</div>
<div class="c d" style="left:214.2px;top:447.73px;width:60px">398</div>
<div class="c d" style="left:268.95px;top:447.73px;width:60px">358</div>
<div class="c d" style="left:322.38px;top:447.73px;width:60px">453</div>
<div class="c d" style="left:374.15px;top:447.73px;width:60px">420</div>
<div class="c d" style="left:425.93px;top:447.73px;width:60px">379</div>
<div class="c d" style="left:477.65px;top:447.73px;width:60px">488</div>
<div class="c d" style="left:529.45px;top:447.73px;width:60px">453</div>
<div class="c d" style="left:581.23px;top:447.73px;width:60px">415</div>
<div class="c kl w" style="left:106.12px;top:467.56px;width:60px">文史</div>
<div class="c d" style="left:159.65px;top:468.18px;width:60px">484</div>
<div class="c d" style="left:214.2px;top:468.18px;width:60px">469</div>
<div class="c d" style="left:268.95px;top:468.18px;width:60px">441</div>
<div class="c d" style="left:322.38px;top:468.18px;width:60px">497</div>
<div class="c d" style="left:374.15px;top:468.18px;width:60px">488</div>
<div class="c d" style="left:425.93px;top:468.18px;width:60px">461</div>
<div class="c d" style="left:477.65px;top:468.18px;width:60px">499</div>
<div class="c d" style="left:529.45px;top:468.18px;width:60px">488</div>
<div class="c d" style="left:581.23px;top:468.18px;width:60px">465</div>
<div class="c kl w" style="left:106.12px;top:488.01px;width:60px">艺术</div>
<div class="c d" style="left:159.65px;top:488.63px;width:60px">660<span class="pt">.</span>3</div>
<div class="c d" style="left:214.2px;top:488.63px;width:60px">483<span class="pt">.</span>7</div>
<div class="c d" style="left:322.38px;top:488.63px;width:60px">663<span class="pt">.</span>3</div>
<div class="c d" style="left:374.15px;top:488.63px;width:60px">518<span class="pt">.</span>7</div>
<div class="c d" style="left:477.65px;top:488.63px;width:60px">523</div>
<div class="c d" style="left:529.45px;top:488.63px;width:60px">488</div>
<div class="c prov" style="left:53.85px;top:539.12px;width:60px">河南</div>
<div class="c kl w" style="left:106.12px;top:508.45px;width:60px">理工</div>
<div class="c d" style="left:159.65px;top:509.07px;width:60px">430</div>
<div class="c d" style="left:214.2px;top:509.07px;width:60px">395</div>
<div class="c d" style="left:268.95px;top:509.07px;width:60px">374</div>
<div class="c d" style="left:322.38px;top:509.07px;width:60px">449</div>
<div class="c d" style="left:374.15px;top:509.07px;width:60px">401</div>
<div class="c d" style="left:425.93px;top:509.07px;width:60px">385</div>
<div class="c d" style="left:477.65px;top:509.07px;width:60px">479</div>
<div class="c d" style="left:529.45px;top:509.07px;width:60px">442</div>
<div class="c d" style="left:581.23px;top:509.07px;width:60px">418</div>
<div class="c kl w" style="left:106.12px;top:528.9px;width:60px">文史</div>
<div class="c d" style="left:159.65px;top:529.52px;width:60px">480</div>
<div class="c d" style="left:214.2px;top:529.52px;width:60px">445</div>
<div class="c d" style="left:268.95px;top:529.52px;width:60px">436</div>
<div class="c d" style="left:322.38px;top:529.52px;width:60px">479</div>
<div class="c d" style="left:374.15px;top:529.52px;width:60px">459</div>
<div class="c d" style="left:425.93px;top:529.52px;width:60px">447</div>
<div class="c d" style="left:477.65px;top:529.52px;width:60px">499</div>
<div class="c d" style="left:529.45px;top:529.52px;width:60px">481</div>
<div class="c d" style="left:581.23px;top:529.52px;width:60px">465</div>
<div class="c kl w" style="left:106.12px;top:549.35px;width:60px">艺术理</div>
<div class="c d" style="left:159.65px;top:549.97px;width:60px">595</div>
<div class="c d" style="left:214.2px;top:549.97px;width:60px">551</div>
<div class="c d" style="left:322.38px;top:549.97px;width:60px">639</div>
<div class="c d" style="left:374.15px;top:549.97px;width:60px">549</div>
<div class="c d" style="left:477.65px;top:549.97px;width:60px">632</div>
<div class="c d" style="left:529.45px;top:549.97px;width:60px">546</div>
<div class="c kl w" style="left:106.12px;top:569.79px;width:60px">艺术文</div>
<div class="c d" style="left:159.65px;top:570.41px;width:60px">652</div>
<div class="c d" style="left:214.2px;top:570.41px;width:60px">542</div>
<div class="c d" style="left:322.38px;top:570.41px;width:60px">668</div>
<div class="c d" style="left:374.15px;top:570.41px;width:60px">573</div>
<div class="c d" style="left:477.65px;top:570.41px;width:60px">642</div>
<div class="c d" style="left:529.45px;top:570.41px;width:60px">592</div>
<div class="c prov w" style="left:53.85px;top:610.69px;width:60px">黑龙江</div>
<div class="c kl w" style="left:106.12px;top:590.24px;width:60px">理工</div>
<div class="c d" style="left:159.65px;top:590.86px;width:60px">379</div>
<div class="c d" style="left:214.2px;top:590.86px;width:60px">345</div>
<div class="c d" style="left:268.95px;top:590.86px;width:60px">308</div>
<div class="c d" style="left:322.38px;top:590.86px;width:60px">397</div>
<div class="c d" style="left:374.15px;top:590.86px;width:60px">376</div>
<div class="c d" style="left:425.93px;top:590.86px;width:60px">324</div>
<div class="c d" style="left:477.65px;top:590.86px;width:60px">399</div>
<div class="c d" style="left:529.45px;top:590.86px;width:60px">364</div>
<div class="c d" style="left:581.23px;top:590.86px;width:60px">301</div>
<div class="c kl w" style="left:106.12px;top:610.69px;width:60px">文史</div>
<div class="c d" style="left:159.65px;top:611.31px;width:60px">411</div>
<div class="c d" style="left:214.2px;top:611.31px;width:60px">378</div>
<div class="c d" style="left:268.95px;top:611.31px;width:60px">324</div>
<div class="c d" style="left:322.38px;top:611.31px;width:60px">433</div>
<div class="c d" style="left:374.15px;top:611.31px;width:60px">410</div>
<div class="c d" style="left:425.93px;top:611.31px;width:60px">348</div>
<div class="c d" style="left:477.65px;top:611.31px;width:60px">419</div>
<div class="c d" style="left:529.45px;top:611.31px;width:60px">405</div>
<div class="c d" style="left:581.23px;top:611.31px;width:60px">356</div>
<div class="c kl w" style="left:106.12px;top:631.13px;width:60px">艺术文</div>
<div class="c d" style="left:159.65px;top:631.75px;width:60px">568</div>
<div class="c d" style="left:214.2px;top:631.75px;width:60px">471</div>
<div class="c d" style="left:322.38px;top:631.75px;width:60px">589</div>
<div class="c d" style="left:374.15px;top:631.75px;width:60px">488</div>
<div class="c d" style="left:477.65px;top:631.75px;width:60px">581</div>
<div class="c d" style="left:529.45px;top:631.75px;width:60px">478</div>
<div class="c prov" style="left:53.85px;top:672.03px;width:60px">湖北</div>
<div class="c kl w" style="left:106.12px;top:651.58px;width:60px">理工</div>
<div class="c d" style="left:159.65px;top:652.2px;width:60px">383</div>
<div class="c d" style="left:214.2px;top:652.2px;width:60px">380</div>
<div class="c d" style="left:268.95px;top:652.2px;width:60px">375</div>
<div class="c d" style="left:322.38px;top:652.2px;width:60px">442</div>
<div class="c d" style="left:374.15px;top:652.2px;width:60px">397</div>
<div class="c d" style="left:425.93px;top:652.2px;width:60px">388</div>
<div class="c d" style="left:477.65px;top:652.2px;width:60px">416</div>
<div class="c d" style="left:529.45px;top:652.2px;width:60px">405</div>
<div class="c d" style="left:581.23px;top:652.2px;width:60px">395</div>
<div class="c kl w" style="left:106.12px;top:672.03px;width:60px">文史</div>
<div class="c d" style="left:159.65px;top:672.65px;width:60px">447</div>
<div class="c d" style="left:214.2px;top:672.65px;width:60px">444</div>
<div class="c d" style="left:268.95px;top:672.65px;width:60px">441</div>
<div class="c d" style="left:322.38px;top:672.65px;width:60px">447</div>
<div class="c d" style="left:374.15px;top:672.65px;width:60px">447</div>
<div class="c d" style="left:425.93px;top:672.65px;width:60px">445</div>
<div class="c d" style="left:477.65px;top:672.65px;width:60px">441</div>
<div class="c d" style="left:529.45px;top:672.65px;width:60px">438</div>
<div class="c d" style="left:581.23px;top:672.65px;width:60px">426</div>
<div class="c kl w" style="left:106.12px;top:692.48px;width:60px">艺术</div>
<div class="c d" style="left:159.65px;top:693.1px;width:60px">587</div>
<div class="c d" style="left:214.2px;top:693.1px;width:60px">529</div>
<div class="c d" style="left:322.38px;top:693.1px;width:60px">576</div>
<div class="c d" style="left:374.15px;top:693.1px;width:60px">542</div>
<div class="c d" style="left:477.65px;top:693.1px;width:60px">532</div>
<div class="c d" style="left:529.45px;top:693.1px;width:60px">507</div>
<div class="c prov w" style="left:53.85px;top:723.15px;width:60px">湖南</div>
<div class="c kl w" style="left:106.12px;top:712.92px;width:60px">理工</div>
<div class="c d" style="left:159.65px;top:713.54px;width:60px">467</div>
<div class="c d" style="left:214.2px;top:713.54px;width:60px">453</div>
<div class="c d" style="left:268.95px;top:713.54px;width:60px">450</div>
<div class="c d" style="left:322.38px;top:713.54px;width:60px">464</div>
<div class="c d" style="left:374.15px;top:713.54px;width:60px">449</div>
<div class="c d" style="left:425.93px;top:713.54px;width:60px">448</div>
<div class="c d" style="left:477.65px;top:713.54px;width:60px">478</div>
<div class="c d" style="left:529.45px;top:713.54px;width:60px">473</div>
<div class="c d" style="left:581.23px;top:713.54px;width:60px">464</div>
<div class="c kl w" style="left:106.12px;top:733.37px;width:60px">文史</div>
<div class="c d" style="left:159.65px;top:733.99px;width:60px">528</div>
<div class="c d" style="left:214.2px;top:733.99px;width:60px">526</div>
<div class="c d" style="left:268.95px;top:733.99px;width:60px">526</div>
<div class="c d" style="left:322.38px;top:733.99px;width:60px">525</div>
<div class="c d" style="left:374.15px;top:733.99px;width:60px">524</div>
<div class="c d" style="left:425.93px;top:733.99px;width:60px">523</div>
<div class="c d" style="left:477.65px;top:733.99px;width:60px">531</div>
<div class="c d" style="left:529.45px;top:733.99px;width:60px">527</div>
<div class="c d" style="left:581.23px;top:733.99px;width:60px">526</div>
<div class="c prov" style="left:53.85px;top:784.49px;width:60px">吉林</div>
<div class="c kl w" style="left:106.12px;top:753.82px;width:60px">理工</div>
<div class="c d" style="left:159.65px;top:754.44px;width:60px">462</div>
<div class="c d" style="left:214.2px;top:754.44px;width:60px">283</div>
<div class="c d" style="left:268.95px;top:754.44px;width:60px">283</div>
<div class="c d" style="left:322.38px;top:754.44px;width:60px">440</div>
<div class="c d" style="left:374.15px;top:754.44px;width:60px">357</div>
<div class="c d" style="left:425.93px;top:754.44px;width:60px">350</div>
<div class="c d" style="left:477.65px;top:754.44px;width:60px">438</div>
<div class="c d" style="left:529.45px;top:754.44px;width:60px">350</div>
<div class="c d" style="left:581.23px;top:754.44px;width:60px">336</div>
<div class="c kl w" style="left:106.12px;top:774.26px;width:60px">文史</div>
<div class="c d" style="left:159.65px;top:774.88px;width:60px">472</div>
<div class="c d" style="left:214.2px;top:774.88px;width:60px">316</div>
<div class="c d" style="left:268.95px;top:774.88px;width:60px">316</div>
<div class="c d" style="left:322.38px;top:774.88px;width:60px">472</div>
<div class="c d" style="left:374.15px;top:774.88px;width:60px">393</div>
<div class="c d" style="left:425.93px;top:774.88px;width:60px">372</div>
<div class="c d" style="left:477.65px;top:774.88px;width:60px">452</div>
<div class="c d" style="left:529.45px;top:774.88px;width:60px">411</div>
<div class="c d" style="left:581.23px;top:774.88px;width:60px">371</div>
<div class="c kl w" style="left:106.12px;top:794.71px;width:60px">艺术理</div>
<div class="c d" style="left:159.65px;top:795.33px;width:60px">535<span class="pt">.</span>8</div>
<div class="c d" style="left:214.2px;top:795.33px;width:60px">384<span class="pt">.</span>8</div>
<div class="c d" style="left:322.38px;top:795.33px;width:60px">531<span class="pt">.</span>4</div>
<div class="c d" style="left:374.15px;top:795.33px;width:60px">394<span class="pt">.</span>2</div>
<div class="c d" style="left:477.65px;top:795.33px;width:60px">503</div>
<div class="c d" style="left:529.45px;top:795.33px;width:60px">409<span class="pt">.</span>4</div>
<div class="c kl w" style="left:106.12px;top:815.16px;width:60px">艺术文</div>
<div class="c d" style="left:159.65px;top:815.78px;width:60px">537<span class="pt">.</span>8</div>
<div class="c d" style="left:214.2px;top:815.78px;width:60px">371<span class="pt">.</span>4</div>
<div class="c d" style="left:322.38px;top:815.78px;width:60px">565<span class="pt">.</span>2</div>
<div class="c d" style="left:374.15px;top:815.78px;width:60px">382<span class="pt">.</span>4</div>
<div class="c d" style="left:477.65px;top:815.78px;width:60px">546</div>
<div class="c d" style="left:529.45px;top:815.78px;width:60px">400</div>
<div class="c prov w" style="left:53.85px;top:855.81px;width:60px">江苏</div>
<div class="c kl w" style="left:106.12px;top:835.6px;width:60px">理工</div>
<div class="c d" style="left:159.65px;top:836.22px;width:60px">297</div>
<div class="c d" style="left:214.2px;top:836.22px;width:60px">288</div>
<div class="c d" style="left:268.95px;top:836.22px;width:60px">285</div>
<div class="c d" style="left:322.38px;top:836.22px;width:60px">316</div>
<div class="c d" style="left:374.15px;top:836.22px;width:60px">309</div>
<div class="c d" style="left:425.93px;top:836.22px;width:60px">307</div>
<div class="c d" style="left:477.65px;top:836.22px;width:60px">324</div>
<div class="c d" style="left:529.45px;top:836.22px;width:60px">317</div>
<div class="c d" style="left:581.23px;top:836.22px;width:60px">313</div>
<div class="c kl w" style="left:106.12px;top:856.05px;width:60px">文史</div>
<div class="c d" style="left:159.65px;top:856.67px;width:60px">301</div>
<div class="c d" style="left:214.2px;top:856.67px;width:60px">287</div>
<div class="c d" style="left:268.95px;top:856.67px;width:60px">281</div>
<div class="c d" style="left:322.38px;top:856.67px;width:60px">290</div>
<div class="c d" style="left:374.15px;top:856.67px;width:60px">285</div>
<div class="c d" style="left:425.93px;top:856.67px;width:60px">277</div>
<div class="c d" style="left:477.65px;top:856.67px;width:60px">307</div>
<div class="c d" style="left:529.45px;top:856.67px;width:60px">295</div>
<div class="c d" style="left:581.23px;top:856.67px;width:60px">284</div>
<div class="c kl w" style="left:106.12px;top:876.25px;width:60px">艺术</div>
<div class="c d" style="left:159.65px;top:876.87px;width:60px">459</div>
<div class="c d" style="left:214.2px;top:876.87px;width:60px">432</div>
<div class="c d" style="left:322.38px;top:876.87px;width:60px">476</div>
<div class="c d" style="left:374.15px;top:876.87px;width:60px">440</div>
<div class="c d" style="left:477.65px;top:876.87px;width:60px">475</div>
<div class="c d" style="left:529.45px;top:876.87px;width:60px">445</div>
</body></html>
